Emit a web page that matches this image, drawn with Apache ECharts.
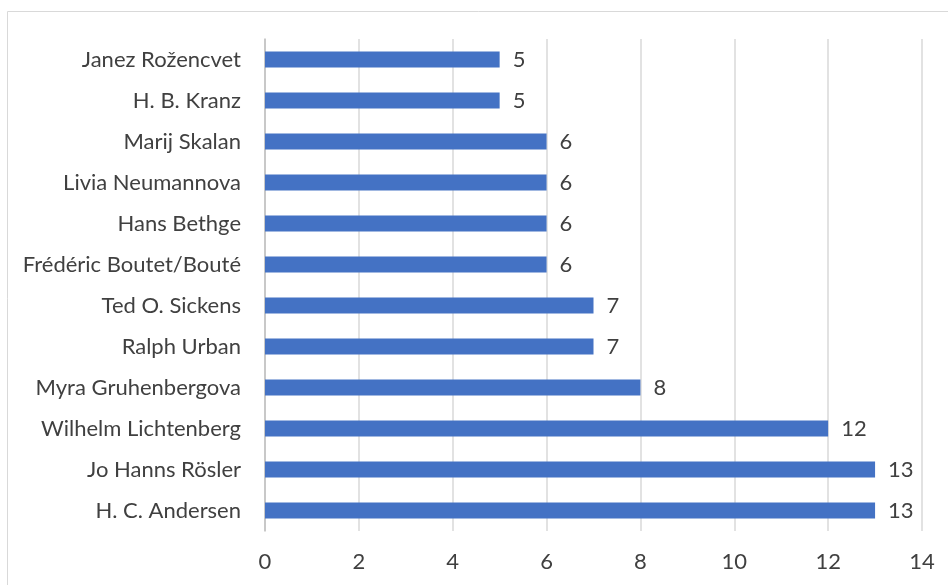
<!DOCTYPE html>
<html>
<head>
<meta charset="utf-8">
<script src="https://cdn.jsdelivr.net/npm/echarts@6/dist/echarts.min.js"></script>
<style>
  html, body { margin: 0; padding: 0; background: #fff; }
  #chart { width: 948px; height: 585px; }
</style>
</head>
<body>
<div id="chart"></div>
<script>
// categories bottom -> top
var names = [
  'H. C. Andersen', 'Jo Hanns Rösler', 'Wilhelm Lichtenberg', 'Myra Gruhenbergova',
  'Ralph Urban', 'Ted O. Sickens', 'Frédéric Boutet/Bouté', 'Hans Bethge',
  'Livia Neumannova', 'Marij Skalan', 'H. B. Kranz', 'Janez Rožencvet'
];
var counts = [13, 13, 12, 8, 7, 7, 6, 6, 6, 6, 5, 5];
var axisMin = 0, axisMax = 14, axisStep = 2;

var textColor = '#404040';
var fontFamily = 'Lato, "Open Sans", sans-serif';
var fontSize = 22;

var chart = echarts.init(document.getElementById('chart'));

chart.setOption({
  animation: false,
  // outer chart frame
  graphic: [{
    type: 'rect',
    shape: { x: 7.5, y: 11.5, width: 960, height: 600 },
    style: { fill: 'none', stroke: '#d9d9d9', lineWidth: 1 },
    silent: true
  }],
  grid: { left: 265, right: 26, top: 39, bottom: 54, containLabel: false },
  xAxis: {
    type: 'value',
    min: axisMin,
    max: axisMax,
    interval: axisStep,
    axisLine: { show: false },
    axisTick: { show: false },
    splitLine: { lineStyle: { color: '#d9d9d9', width: 1.5 } },
    axisLabel: { color: textColor, fontSize: fontSize, fontFamily: fontFamily, margin: 20 }
  },
  yAxis: {
    type: 'category',
    data: names,
    axisLine: { lineStyle: { color: '#bfbfbf', width: 1.5 } },
    axisTick: { show: false },
    axisLabel: { color: textColor, fontSize: fontSize, fontFamily: fontFamily, margin: 24 }
  },
  series: [{
    type: 'bar',
    data: counts,
    barWidth: 16,
    itemStyle: { color: '#4472c4' },
    label: {
      show: true,
      position: 'right',
      distance: 13,
      color: textColor,
      fontSize: fontSize,
      fontFamily: fontFamily
    }
  }]
});
</script>
</body>
</html>
